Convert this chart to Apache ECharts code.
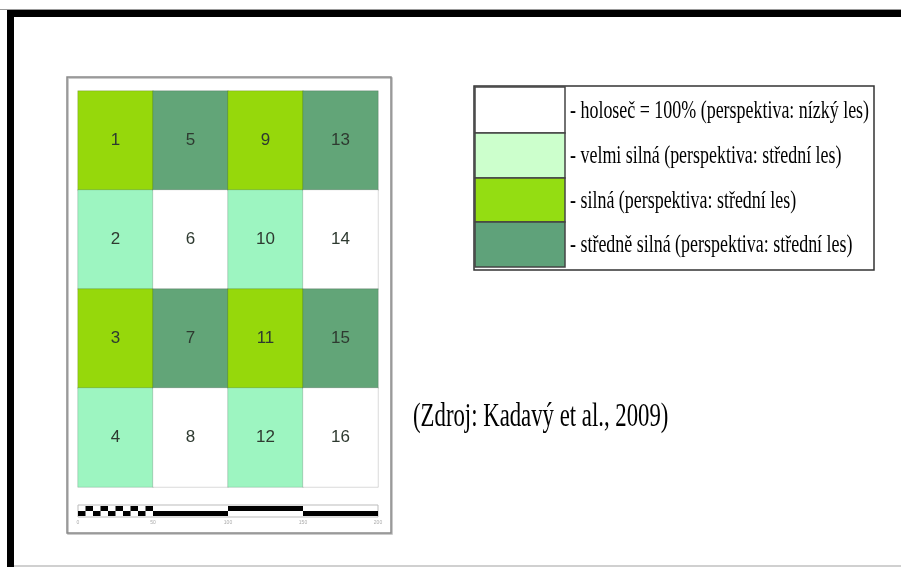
<!DOCTYPE html>
<html>
<head>
<meta charset="utf-8">
<script src="https://cdn.jsdelivr.net/npm/echarts@6/dist/echarts.min.js"></script>
<style>
html,body{margin:0;padding:0;background:#fff;}
#chart{width:901px;height:567px;}
</style>
</head>
<body>
<div id="chart"></div>
<script>
// ---- data ----
const columns = ['A', 'B', 'C', 'D'];
const rows = ['r1', 'r2', 'r3', 'r4'];
const plotIds = [1, 2, 3, 4, 5, 6, 7, 8, 9, 10, 11, 12, 13, 14, 15, 16];
// class of each plot (0 = holoseč, 1 = velmi silná, 2 = silná, 3 = středně silná)
const plotClass = [2, 1, 2, 1, 3, 0, 3, 0, 2, 1, 2, 1, 3, 0, 3, 0];
const classLabels = [
  '- holoseč = 100% (perspektiva: nízký les)',
  '- velmi silná (perspektiva: střední les)',
  '- silná (perspektiva: střední les)',
  '- středně silná (perspektiva: střední les)'
];
const cellColors = ['#ffffff', '#9df5c1', '#96d80b', '#62a578'];
const legendColors = ['#ffffff', '#ccffcc', '#94dd12', '#5fa27a'];
const scaleTicks = ['0', '50', '100', '150', '200'];
const sourceText = '(Zdroj: Kadavý et al., 2009)';

// ---- build ----
const heatData = plotIds.map((id, i) => [Math.floor(i / 4), i % 4, plotClass[i]]);

const g = [];
// page border
g.push({type:'rect', shape:{x:0,y:9,width:901,height:1}, style:{fill:'#999'}, silent:true});
g.push({type:'rect', shape:{x:7,y:10,width:894,height:7}, style:{fill:'#000'}, silent:true});
g.push({type:'rect', shape:{x:7,y:10,width:7,height:557}, style:{fill:'#000'}, silent:true});
g.push({type:'rect', shape:{x:14,y:565,width:887,height:2}, style:{fill:'#d0d0d0'}, silent:true});
// map frame (with slight shadow)
g.push({type:'rect', shape:{x:68,y:78,width:324,height:456}, style:{fill:'none', stroke:'#bbb', lineWidth:1.5}, silent:true, z:-2});
g.push({type:'rect', shape:{x:67,y:77,width:324,height:456}, style:{fill:'none', stroke:'#8a8a8a', lineWidth:1.5}, silent:true, z:-1});
// scale bar
const sbX = 78, sbW = 300, sbY = 505;
g.push({type:'rect', shape:{x:sbX,y:sbY,width:sbW,height:12}, style:{fill:'#fff', stroke:'#bbb', lineWidth:1}, silent:true});
for (let k = 0; k < 10; k++) {
  g.push({type:'rect', shape:{x:sbX + k*7.5, y: (k % 2 === 0) ? sbY+6 : sbY+1, width:7.5, height:5}, style:{fill:'#000'}, silent:true});
}
g.push({type:'rect', shape:{x:sbX+75,y:sbY+6,width:75,height:5}, style:{fill:'#000'}, silent:true});
g.push({type:'rect', shape:{x:sbX+150,y:sbY+1,width:75,height:5}, style:{fill:'#000'}, silent:true});
g.push({type:'rect', shape:{x:sbX+225,y:sbY+6,width:75,height:5}, style:{fill:'#000'}, silent:true});
scaleTicks.forEach((t, k) => {
  g.push({type:'text', x: sbX + k*75, y: 523, style:{text:t, fill:'#aaa', font:'5px "Liberation Sans"', textAlign:'center', textVerticalAlign:'middle'}, silent:true});
});
// legend box
g.push({type:'rect', shape:{x:474,y:86,width:400,height:184}, style:{fill:'#fff', stroke:'#333', lineWidth:1.5}, silent:true});
const swTop = [87, 133, 178, 222], swH = [46, 45, 44, 45];
classLabels.forEach((lab, k) => {
  g.push({type:'rect', shape:{x:475,y:swTop[k],width:90,height:swH[k]}, style:{fill:legendColors[k], stroke:'#444', lineWidth:1.5}, silent:true});
  g.push({type:'text', x:570, y: swTop[k] + swH[k]/2 + 1, scaleX:0.69, style:{text:lab, fill:'#000', font:'26px "Liberation Serif"', textVerticalAlign:'middle'}, silent:true});
});
// source
g.push({type:'text', x:413, y:417, scaleX:0.69, style:{text:sourceText, fill:'#000', font:'33px "Liberation Serif"', textVerticalAlign:'middle'}, silent:true});

const chart = echarts.init(document.getElementById('chart'), null, {renderer:'canvas'});
chart.setOption({
  animation:false,
  backgroundColor:'#fff',
  grid:{left:78, top:91, width:300, height:396},
  xAxis:{type:'category', data:columns, show:false},
  yAxis:{type:'category', data:rows, inverse:true, show:false},
  visualMap:{
    type:'piecewise', show:false, dimension:2, seriesIndex:0,
    pieces: cellColors.map((c, k) => ({value:k, color:c}))
  },
  graphic:{elements:g},
  series:[{
    type:'heatmap',
    data:heatData,
    itemStyle:{borderColor:'rgba(0,0,0,0.15)', borderWidth:1},
    label:{show:true, formatter: p => String(plotIds[p.dataIndex]), color:'#2e3a30', fontSize:17, fontFamily:'Liberation Sans'},
    emphasis:{disabled:true}
  }]
});
</script>
</body>
</html>
